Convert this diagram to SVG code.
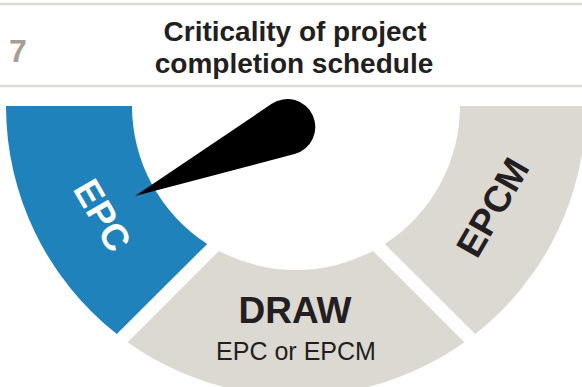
<svg xmlns="http://www.w3.org/2000/svg" width="582" height="387" viewBox="0 0 582 387">
<style>
.rule{stroke:#dcd9d3;stroke-width:2.5;fill:none}
.title{font-family:"Liberation Sans",Arial,sans-serif;font-weight:700;font-size:28px;fill:#231f20;text-anchor:middle}
.num{font-family:"Liberation Sans",Arial,sans-serif;font-weight:700;font-size:32px;fill:#a69e94}
.lab{font-family:"Liberation Sans",Arial,sans-serif;font-weight:700;font-size:37px;text-anchor:middle}
.sub{font-family:"Liberation Sans",Arial,sans-serif;font-weight:400;font-size:25px;fill:#231f20;text-anchor:middle}
.blue{fill:#1f82ba}
.grey{fill:#dcd9d3}
</style>
<rect width="582" height="387" fill="#ffffff"/>
<g id="header">
<line class="rule" x1="0" y1="4" x2="582" y2="4"/>
<line class="rule" x1="0" y1="86" x2="582" y2="86"/>
<text class="num" x="9" y="62">7</text>
<text class="title" x="295" y="41">Criticality of project</text>
<text class="title" x="294" y="73">completion schedule</text>
</g>
<g id="epc">
<path class="blue" d="M6 106 L132 106 A164 164 0 0 0 207.2 243.9 L116.8 334.1 A290 290 0 0 1 6 106 Z"/>
<g transform="translate(103 215) rotate(60)"><text class="lab" x="0" y="13.5" fill="#ffffff">EPC</text></g>
</g>
<g id="draw">
<path class="grey" d="M219.1 250.9 A164 164 0 0 0 372.9 250.9 L464.3 342.2 A290 290 0 0 1 127.7 342.2 Z"/>
<text class="lab" x="295" y="323" fill="#231f20">DRAW</text>
<text class="sub" x="296" y="360">EPC or EPCM</text>
</g>
<g id="epcm">
<path class="grey" d="M460 106 L586 106 A290 290 0 0 1 475.2 334.1 L384.8 243.9 A164 164 0 0 0 460 106 Z"/>
<g transform="translate(492 207) rotate(-60)"><text class="lab" x="0" y="13.5" fill="#231f20">EPCM</text></g>
</g>
<g id="needle">
<path d="M135 196 L271.7 103.8 A28 28 0 1 1 294.5 154.1 Z" fill="#000000"/>
</g>
</svg>
